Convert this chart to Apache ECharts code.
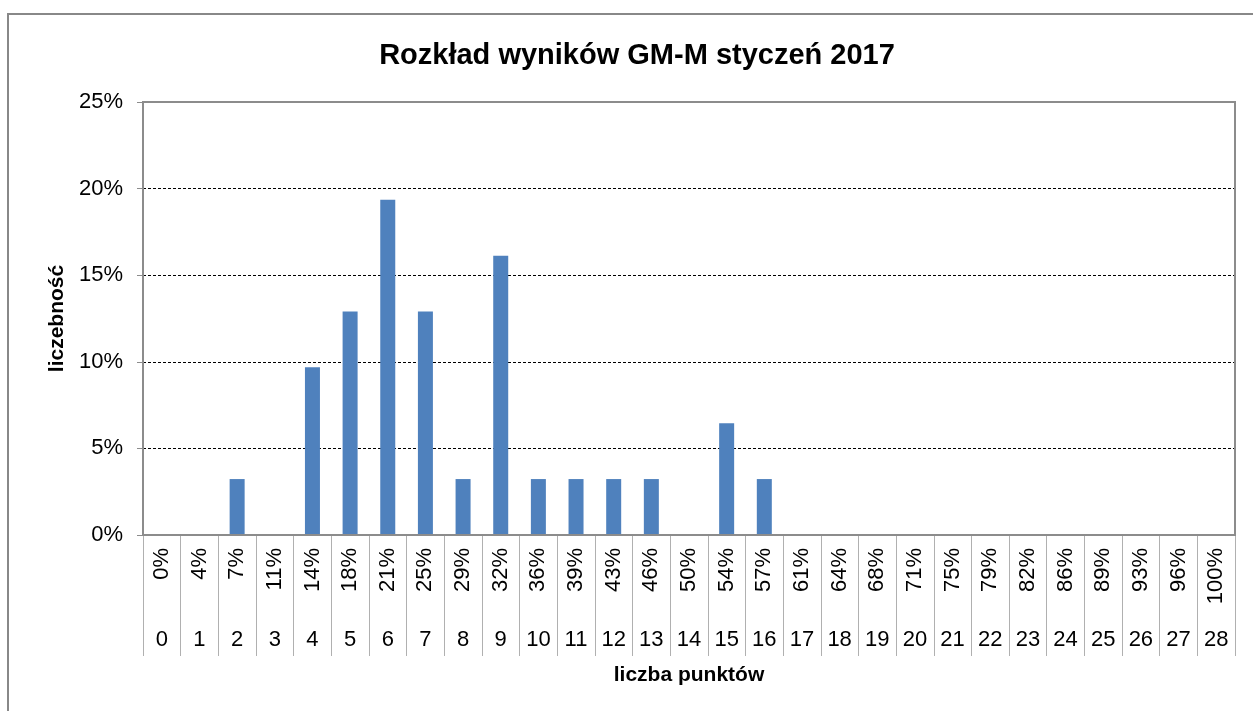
<!DOCTYPE html>
<html>
<head>
<meta charset="utf-8">
<script src="https://cdn.jsdelivr.net/npm/echarts@6/dist/echarts.min.js"></script>
<style>
html,body{margin:0;padding:0;background:#fff;}
#chart{width:1253px;height:711px;}
</style>
</head>
<body>
<div id="chart"></div>
<script>
var points = ['0','1','2','3','4','5','6','7','8','9','10','11','12','13','14','15','16','17','18','19','20','21','22','23','24','25','26','27','28'];
var percentLabels = ['0%','4%','7%','11%','14%','18%','21%','25%','29%','32%','36%','39%','43%','46%','50%','54%','57%','61%','64%','68%','71%','75%','79%','82%','86%','89%','93%','96%','100%'];
var shares = [0, 0, 3.23, 0, 9.68, 12.9, 19.35, 12.9, 3.23, 16.13, 3.23, 3.23, 3.23, 3.23, 0, 6.45, 3.23, 0, 0, 0, 0, 0, 0, 0, 0, 0, 0, 0, 0];
var yTicks = [0, 5, 10, 15, 20, 25];

var FONT = 'Liberation Sans, Arial, sans-serif';
var chart = echarts.init(document.getElementById('chart'));
chart.setOption({
  animation: false,
  backgroundColor: '#fff',
  title: {
    text: 'Rozkład wyników GM-M styczeń 2017',
    left: 632, top: 36, textAlign: 'center',
    textStyle: {fontFamily: FONT, fontSize: 29, fontWeight: 'bold', color: '#000'}
  },
  graphic: [{
    type: 'rect', shape: {x: 8, y: 14, width: 1300, height: 800},
    style: {fill: null, stroke: '#888', lineWidth: 2}, silent: true
  }, {
    type: 'rect', shape: {x: 143, y: 102, width: 1092, height: 433},
    style: {fill: null, stroke: '#8c8c8c', lineWidth: 2}, silent: true, z: 100
  }],
  grid: {left: 143, right: 18, top: 102, bottom: 176, show: false},
  xAxis: [{
    type: 'category', data: points, position: 'bottom',
    name: 'liczba punktów', nameLocation: 'middle', nameGap: 130,
    nameTextStyle: {fontFamily: FONT, fontSize: 21, fontWeight: 'bold', color: '#000'},
    axisLine: {lineStyle: {color: '#8c8c8c', width: 2}},
    axisTick: {show: true, length: 121, interval: 0, lineStyle: {color: '#b0b0b0', width: 1}},
    axisLabel: {interval: 0, margin: 94, fontFamily: FONT, fontSize: 22, color: '#000'},
    splitLine: {show: false}
  }, {
    type: 'category', data: percentLabels, position: 'bottom', offset: 0,
    axisLine: {show: false}, axisTick: {show: false},
    axisLabel: {interval: 0, rotate: 90, margin: 13, fontFamily: FONT, fontSize: 22, color: '#000'}
  }],
  yAxis: {
    type: 'value', min: yTicks[0], max: yTicks[yTicks.length - 1], interval: 5,
    name: 'liczebność', nameLocation: 'middle', nameGap: 75, nameRotate: 90,
    nameTextStyle: {fontFamily: FONT, fontSize: 21, fontWeight: 'bold', color: '#000'},
    axisLine: {show: true, lineStyle: {color: '#8c8c8c', width: 2}},
    axisTick: {show: true, length: 6, lineStyle: {color: '#8c8c8c'}},
    axisLabel: {margin: 20, fontFamily: FONT, fontSize: 22, color: '#000', formatter: '{value}%'},
    splitLine: {show: true, lineStyle: {color: '#000', type: [3, 2], width: 1}}
  },
  series: [{
    type: 'bar', data: shares, xAxisIndex: 0, barWidth: 15,
    itemStyle: {color: '#4f81bd'}
  }]
});
</script>
</body>
</html>
